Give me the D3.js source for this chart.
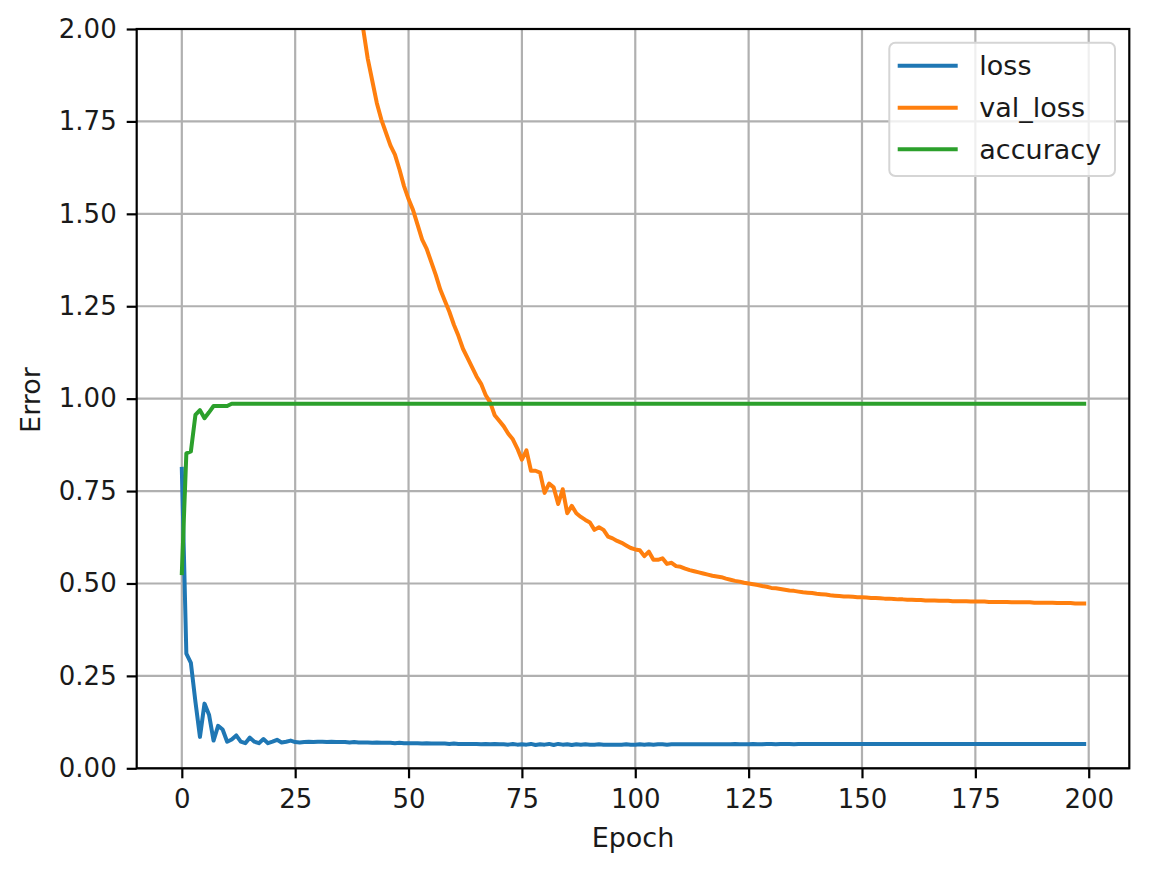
<!DOCTYPE html>
<html>
<head>
<meta charset="UTF-8">
<title>Error per epoch</title>
<script src="https://cdn.jsdelivr.net/npm/d3@7/dist/d3.min.js"></script>
<style>
  body { margin: 0; background: #fff; }
  text { font-family: "DejaVu Sans", sans-serif; }
</style>
</head>
<body>
<script>
// training history, one value per epoch (0..199)
var lossValues = [
  0.810, 0.310, 0.285, 0.180, 0.085, 0.175, 0.145, 0.075, 0.115, 0.105,
  0.072, 0.078, 0.089, 0.072, 0.068, 0.083, 0.072, 0.068, 0.079, 0.068,
  0.072, 0.077, 0.070, 0.072, 0.075, 0.071, 0.070, 0.071, 0.072, 0.071,
  0.072, 0.072, 0.071, 0.072, 0.071, 0.071, 0.071, 0.070, 0.071, 0.070,
  0.070, 0.070, 0.069, 0.070, 0.069, 0.069, 0.069, 0.068, 0.069, 0.068,
  0.068, 0.068, 0.068, 0.067, 0.068, 0.067, 0.067, 0.067, 0.067, 0.066,
  0.067, 0.066, 0.066, 0.066, 0.066, 0.066, 0.065, 0.066, 0.065, 0.066,
  0.065, 0.065, 0.064, 0.066, 0.064, 0.065, 0.064, 0.066, 0.063, 0.065,
  0.064, 0.066, 0.063, 0.066, 0.064, 0.065, 0.063, 0.065, 0.064, 0.065,
  0.064, 0.064, 0.065, 0.064, 0.064, 0.064, 0.064, 0.064, 0.065, 0.064,
  0.064, 0.065, 0.064, 0.065, 0.064, 0.065, 0.065, 0.064, 0.065, 0.065,
  0.065, 0.065, 0.065, 0.065, 0.065, 0.065, 0.065, 0.065, 0.065, 0.065,
  0.065, 0.065, 0.066, 0.065, 0.065, 0.065, 0.066, 0.065, 0.065, 0.066,
  0.066, 0.065, 0.066, 0.066, 0.066, 0.065, 0.066, 0.066, 0.066, 0.066,
  0.066, 0.066, 0.066, 0.066, 0.066, 0.066, 0.066, 0.066, 0.066, 0.066,
  0.066, 0.066, 0.066, 0.066, 0.066, 0.066, 0.066, 0.066, 0.066, 0.066,
  0.066, 0.066, 0.066, 0.066, 0.066, 0.066, 0.066, 0.066, 0.066, 0.066,
  0.066, 0.066, 0.066, 0.066, 0.066, 0.066, 0.066, 0.066, 0.066, 0.066,
  0.066, 0.066, 0.066, 0.066, 0.066, 0.066, 0.066, 0.066, 0.066, 0.066,
  0.066, 0.066, 0.066, 0.066, 0.066, 0.066, 0.066, 0.066, 0.066, 0.066
];

// val_loss is above the y-limit before epoch 39, so it starts there
var valLossStart = 39;
var valLossValues = [
  2.070,
  2.000, 1.920, 1.860, 1.800, 1.755, 1.720, 1.685, 1.660, 1.620, 1.575,
  1.540, 1.510, 1.470, 1.430, 1.405, 1.370, 1.335, 1.295, 1.265, 1.235,
  1.200, 1.170, 1.135, 1.110, 1.085, 1.060, 1.040, 1.010, 0.990, 0.955,
  0.940, 0.925, 0.905, 0.890, 0.865, 0.835, 0.860, 0.805, 0.805, 0.800,
  0.745, 0.770, 0.760, 0.715, 0.755, 0.690, 0.710, 0.690, 0.680, 0.672,
  0.665, 0.645, 0.652, 0.645, 0.627, 0.622, 0.615, 0.610, 0.603, 0.596,
  0.592, 0.590, 0.574, 0.586, 0.564, 0.564, 0.568, 0.553, 0.556, 0.547,
  0.545, 0.540, 0.536, 0.533, 0.530, 0.527, 0.524, 0.521, 0.519, 0.517,
  0.513, 0.510, 0.507, 0.505, 0.502, 0.500, 0.498, 0.496, 0.493, 0.491,
  0.488, 0.487, 0.485, 0.483, 0.481, 0.480, 0.478, 0.476, 0.475, 0.474,
  0.472, 0.471, 0.470, 0.468, 0.467, 0.466, 0.465, 0.465, 0.464, 0.463,
  0.463, 0.462, 0.461, 0.461, 0.460, 0.459, 0.459, 0.458, 0.457, 0.457,
  0.456, 0.456, 0.455, 0.455, 0.454, 0.454, 0.454, 0.453, 0.453, 0.453,
  0.452, 0.452, 0.452, 0.452, 0.451, 0.451, 0.451, 0.451, 0.450, 0.450,
  0.450, 0.450, 0.450, 0.449, 0.449, 0.449, 0.449, 0.449, 0.448, 0.448,
  0.448, 0.448, 0.448, 0.447, 0.447, 0.447, 0.447, 0.446, 0.446, 0.446
];

var accuracyValues = [
  0.528, 0.852, 0.857, 0.956, 0.969, 0.947, 0.963, 0.980, 0.980, 0.980,
  0.980, 0.986, 0.986, 0.986, 0.986, 0.986, 0.986, 0.986, 0.986, 0.986,
  0.986, 0.986, 0.986, 0.986, 0.986, 0.986, 0.986, 0.986, 0.986, 0.986,
  0.986, 0.986, 0.986, 0.986, 0.986, 0.986, 0.986, 0.986, 0.986, 0.986,
  0.986, 0.986, 0.986, 0.986, 0.986, 0.986, 0.986, 0.986, 0.986, 0.986,
  0.986, 0.986, 0.986, 0.986, 0.986, 0.986, 0.986, 0.986, 0.986, 0.986,
  0.986, 0.986, 0.986, 0.986, 0.986, 0.986, 0.986, 0.986, 0.986, 0.986,
  0.986, 0.986, 0.986, 0.986, 0.986, 0.986, 0.986, 0.986, 0.986, 0.986,
  0.986, 0.986, 0.986, 0.986, 0.986, 0.986, 0.986, 0.986, 0.986, 0.986,
  0.986, 0.986, 0.986, 0.986, 0.986, 0.986, 0.986, 0.986, 0.986, 0.986,
  0.986, 0.986, 0.986, 0.986, 0.986, 0.986, 0.986, 0.986, 0.986, 0.986,
  0.986, 0.986, 0.986, 0.986, 0.986, 0.986, 0.986, 0.986, 0.986, 0.986,
  0.986, 0.986, 0.986, 0.986, 0.986, 0.986, 0.986, 0.986, 0.986, 0.986,
  0.986, 0.986, 0.986, 0.986, 0.986, 0.986, 0.986, 0.986, 0.986, 0.986,
  0.986, 0.986, 0.986, 0.986, 0.986, 0.986, 0.986, 0.986, 0.986, 0.986,
  0.986, 0.986, 0.986, 0.986, 0.986, 0.986, 0.986, 0.986, 0.986, 0.986,
  0.986, 0.986, 0.986, 0.986, 0.986, 0.986, 0.986, 0.986, 0.986, 0.986,
  0.986, 0.986, 0.986, 0.986, 0.986, 0.986, 0.986, 0.986, 0.986, 0.986,
  0.986, 0.986, 0.986, 0.986, 0.986, 0.986, 0.986, 0.986, 0.986, 0.986,
  0.986, 0.986, 0.986, 0.986, 0.986, 0.986, 0.986, 0.986, 0.986, 0.986
];

var seriesNames = ["loss", "val_loss", "accuracy"];
var seriesColors = ["#1f77b4", "#ff7f0e", "#2ca02c"];
var xTicks = [0, 25, 50, 75, 100, 125, 150, 175, 200];
var yTicks = [0, 0.25, 0.5, 0.75, 1.0, 1.25, 1.5, 1.75, 2.0];

var W = 1150, H = 886;
var plotL = 136.7, plotR = 1129.3, plotT = 29, plotB = 768.3;
var tickFont = 26, labelFont = 27;
var textColor = "#1a1a1a";

var svg = d3.select("body").append("svg")
  .attr("width", W)
  .attr("height", H);

svg.append("rect").attr("width", W).attr("height", H).attr("fill", "#fff");

// matplotlib style 5% margins around epochs 0..199
var x = d3.scaleLinear().domain([-9.95, 208.95]).range([plotL, plotR]);
var y = d3.scaleLinear().domain([0, 2]).range([plotB, plotT]);

svg.append("clipPath").attr("id", "plotclip")
  .append("rect")
  .attr("x", plotL).attr("y", plotT)
  .attr("width", plotR - plotL).attr("height", plotB - plotT);

// grid
var grid = svg.append("g");
grid.selectAll(".gx").data(xTicks).enter().append("line")
  .attr("x1", function(d){ return x(d); }).attr("x2", function(d){ return x(d); })
  .attr("y1", plotT).attr("y2", plotB)
  .attr("stroke", "#b0b0b0").attr("stroke-width", 2.2);
grid.selectAll(".gy").data(yTicks).enter().append("line")
  .attr("x1", plotL).attr("x2", plotR)
  .attr("y1", function(d){ return y(d); }).attr("y2", function(d){ return y(d); })
  .attr("stroke", "#b0b0b0").attr("stroke-width", 2.2);

// series
var series = [
  lossValues.map(function(v, i){ return [i, v]; }),
  valLossValues.map(function(v, i){ return [i + valLossStart, v]; }),
  accuracyValues.map(function(v, i){ return [i, v]; })
];

var line = d3.line()
  .x(function(d){ return x(d[0]); })
  .y(function(d){ return y(d[1]); });

svg.append("g").attr("clip-path", "url(#plotclip)")
  .selectAll("path").data(series).enter().append("path")
  .attr("d", line)
  .attr("fill", "none")
  .attr("stroke", function(d, i){ return seriesColors[i]; })
  .attr("stroke-width", 4)
  .attr("stroke-linejoin", "round")
  .attr("stroke-linecap", "square");

// axes
var xAxis = d3.axisBottom(x).tickValues(xTicks).tickFormat(d3.format("d"))
  .tickSize(10).tickPadding(11.5);
var yAxis = d3.axisLeft(y).tickValues(yTicks).tickFormat(d3.format(".2f"))
  .tickSize(10).tickPadding(10);

var gx = svg.append("g").attr("transform", "translate(0," + plotB + ")").call(xAxis);
var gy = svg.append("g").attr("transform", "translate(" + plotL + ",0)").call(yAxis);
[gx, gy].forEach(function(g){
  g.select(".domain").remove();
  g.selectAll("line").attr("stroke", "#000").attr("stroke-width", 2.2);
  g.selectAll("text").attr("fill", textColor)
    .style("font-family", "'DejaVu Sans', sans-serif")
    .style("font-size", tickFont + "px");
});

// spines
svg.append("rect")
  .attr("x", plotL).attr("y", plotT)
  .attr("width", plotR - plotL).attr("height", plotB - plotT)
  .attr("fill", "none").attr("stroke", "#000").attr("stroke-width", 2.2);

// axis labels
svg.append("text")
  .attr("x", (plotL + plotR) / 2).attr("y", 847)
  .attr("text-anchor", "middle")
  .attr("fill", textColor)
  .style("font-size", labelFont + "px")
  .text("Epoch");

svg.append("text")
  .attr("transform", "translate(40,400) rotate(-90)")
  .attr("text-anchor", "middle")
  .attr("fill", textColor)
  .style("font-size", labelFont + "px")
  .text("Error");

// legend
var legend = svg.append("g");
legend.append("rect")
  .attr("x", 889.3).attr("y", 42.7)
  .attr("width", 225.7).attr("height", 133.3)
  .attr("rx", 6).attr("ry", 6)
  .attr("fill", "#fff").attr("fill-opacity", 0.8)
  .attr("stroke", "#d5d5d5").attr("stroke-width", 2);

var legendY = [65.7, 107.7, 149.3];
seriesNames.forEach(function(name, i){
  legend.append("line")
    .attr("x1", 897.7).attr("x2", 957.7)
    .attr("y1", legendY[i]).attr("y2", legendY[i])
    .attr("stroke", seriesColors[i]).attr("stroke-width", 4);
  legend.append("text")
    .attr("x", 979.3).attr("y", legendY[i])
    .attr("dy", "0.35em")
    .style("font-size", labelFont + "px")
    .attr("fill", textColor)
    .text(name);
});
</script>
</body>
</html>
